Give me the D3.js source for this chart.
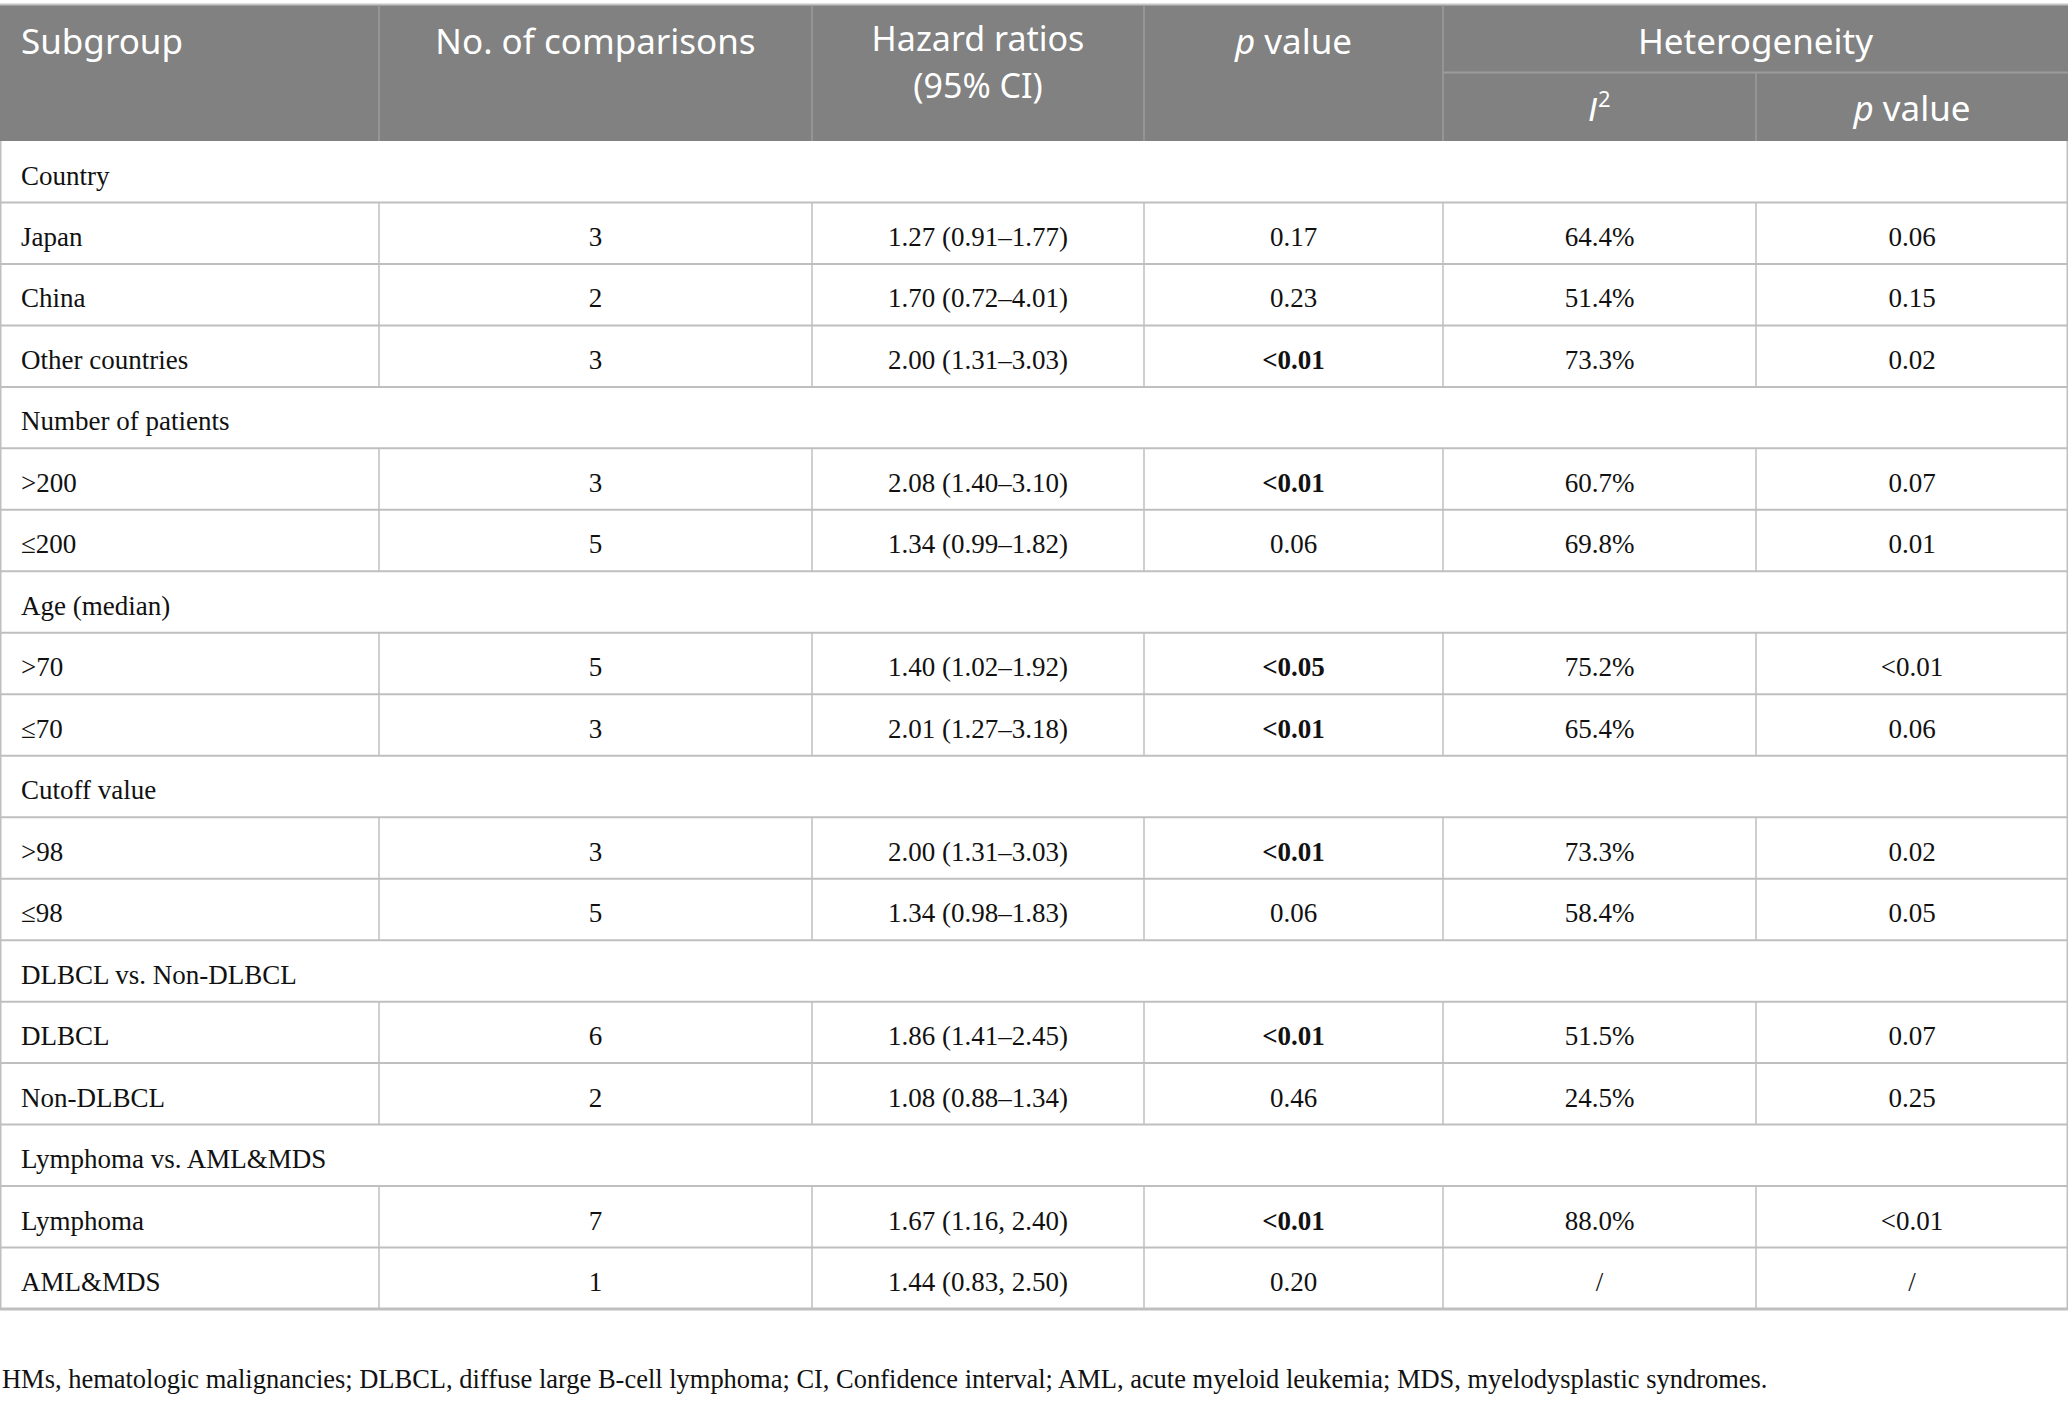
<!DOCTYPE html>
<html>
<head>
<meta charset="utf-8">
<script src="https://cdn.jsdelivr.net/npm/d3@7"></script>
<style>
  body { margin: 0; background: #fff; }
  svg { display: block; }
</style>
</head>
<body>
<div id="table_div"></div>
<script>
groups = ['Country', 'Number of patients', 'Age (median)', 'Cutoff value',
          'DLBCL vs. Non-DLBCL', 'Lymphoma vs. AML&MDS'];
subgroups = ['Japan', 'China', 'Other countries', '>200', '\u2264200', '>70', '\u226470',
             '>98', '\u226498', 'DLBCL', 'Non-DLBCL', 'Lymphoma', 'AML&MDS'];
subgroup_group = [0, 0, 0, 1, 1, 2, 2, 3, 3, 4, 4, 5, 5];
comparisons = [3, 2, 3, 3, 5, 5, 3, 3, 5, 6, 2, 7, 1];
hazard_ratios = ['1.27 (0.91\u20131.77)', '1.70 (0.72\u20134.01)', '2.00 (1.31\u20133.03)',
                 '2.08 (1.40\u20133.10)', '1.34 (0.99\u20131.82)', '1.40 (1.02\u20131.92)',
                 '2.01 (1.27\u20133.18)', '2.00 (1.31\u20133.03)', '1.34 (0.98\u20131.83)',
                 '1.86 (1.41\u20132.45)', '1.08 (0.88\u20131.34)', '1.67 (1.16, 2.40)',
                 '1.44 (0.83, 2.50)'];
p_values = ['0.17', '0.23', '<0.01', '<0.01', '0.06', '<0.05', '<0.01', '<0.01', '0.06',
            '<0.01', '0.46', '<0.01', '0.20'];
i2_values = ['64.4%', '51.4%', '73.3%', '60.7%', '69.8%', '75.2%', '65.4%', '73.3%', '58.4%',
             '51.5%', '24.5%', '88.0%', '/'];
het_p_values = ['0.06', '0.15', '0.02', '0.07', '0.01', '<0.01', '0.06', '0.02', '0.05',
                '0.07', '0.25', '<0.01', '/'];
footnote = 'HMs, hematologic malignancies; DLBCL, diffuse large B-cell lymphoma; CI, Confidence interval; AML, acute myeloid leukemia; MDS, myelodysplastic syndromes.';

table_w = 2068;
table_h = 1411;
col_x = [0, 379, 812, 1144, 1443, 1756, 2068];
head_top = 5;
head_bot = 141;
head_split = 72.5;
body_bot = 1309;
head_color = '#808180';
line_color = '#bfbfbf';
head_line_color = '#9c9c9c';
serif = '"Liberation Serif", "Times New Roman", serif';
sans = '"Noto Sans", "Open Sans", sans-serif';

// build the row list: group title rows followed by their subgroup rows
rows = [];
groups.forEach(function (g, gi) {
  rows.push({type: 'group', label: g});
  subgroups.forEach(function (s, i) {
    if (subgroup_group[i] == gi) {
      rows.push({type: 'data', cells: [s, comparisons[i], hazard_ratios[i], p_values[i],
                                       i2_values[i], het_p_values[i]],
                 bold_p: p_values[i].charAt(0) == '<'});
    }
  });
});

y = d3.scaleBand().domain(d3.range(rows.length)).range([head_bot, body_bot]);

svg = d3.select('#table_div')
  .append('svg')
  .attr('width', table_w)
  .attr('height', table_h);

// header block
svg.append('rect')
  .attr('x', 0)
  .attr('y', head_top)
  .attr('width', table_w)
  .attr('height', head_bot - head_top)
  .attr('fill', head_color);

svg.append('line')
  .attr('x1', 0).attr('x2', table_w)
  .attr('y1', head_top - 0.5).attr('y2', head_top - 0.5)
  .attr('stroke', '#c4c4c4').attr('stroke-width', 2);

[1, 2, 3, 4].forEach(function (c) {
  svg.append('line')
    .attr('x1', col_x[c]).attr('x2', col_x[c])
    .attr('y1', head_top).attr('y2', head_bot)
    .attr('stroke', head_line_color).attr('stroke-width', 1.5);
});
svg.append('line')
  .attr('x1', col_x[5]).attr('x2', col_x[5])
  .attr('y1', head_split).attr('y2', head_bot)
  .attr('stroke', head_line_color).attr('stroke-width', 1.5);
svg.append('line')
  .attr('x1', col_x[4]).attr('x2', table_w)
  .attr('y1', head_split).attr('y2', head_split)
  .attr('stroke', head_line_color).attr('stroke-width', 2);

function head_text(x, yy, anchor) {
  return svg.append('text')
    .attr('x', x)
    .attr('y', yy)
    .attr('text-anchor', anchor)
    .attr('font-family', sans)
    .attr('font-size', 35)
    .attr('fill', '#fff');
}
function mid(c1, c2) { return (col_x[c1] + col_x[c2]) / 2; }

head_text(21, 54, 'start').text('Subgroup');
head_text(mid(1, 2), 54, 'middle').text('No. of comparisons');
head_text(mid(2, 3), 51, 'middle').attr('font-size', 34).text('Hazard ratios');
head_text(mid(2, 3), 98, 'middle').attr('font-size', 34).text('(95% CI)');
t = head_text(mid(3, 4), 54, 'middle');
t.append('tspan').attr('font-style', 'italic').text('p');
t.append('tspan').text(' value');
head_text(mid(4, 6), 54, 'middle').text('Heterogeneity');
t = head_text(mid(4, 5), 121, 'middle');
t.append('tspan').attr('font-family', '"DejaVu Sans", sans-serif')
  .attr('font-style', 'italic').attr('font-size', 32).text('I');
t.append('tspan').attr('font-size', 22).attr('dy', -14).text('2');
t = head_text(mid(5, 6), 121, 'middle');
t.append('tspan').attr('font-style', 'italic').text('p');
t.append('tspan').text(' value');

// body rows
row_g = svg.selectAll('g.row')
  .data(rows)
  .enter()
  .append('g')
  .attr('class', 'row')
  .attr('transform', function (d, i) { return 'translate(0,' + y(i) + ')'; });

row_g.each(function (d) {
  var g = d3.select(this);
  var h = y.bandwidth();
  if (d.type == 'group') {
    g.append('text')
      .attr('x', 21).attr('y', 43.5)
      .attr('font-family', serif).attr('font-size', 27).attr('fill', '#111')
      .text(d.label);
    return;
  }
  for (var c = 1; c <= 5; c++) {
    g.append('line')
      .attr('x1', col_x[c]).attr('x2', col_x[c])
      .attr('y1', 0).attr('y2', h)
      .attr('stroke', line_color).attr('stroke-width', 1.5);
  }
  d.cells.forEach(function (v, c) {
    g.append('text')
      .attr('x', c == 0 ? 21 : mid(c, c + 1))
      .attr('y', 43.5)
      .attr('text-anchor', c == 0 ? 'start' : 'middle')
      .attr('font-family', serif).attr('font-size', 27).attr('fill', '#111')
      .attr('font-weight', (c == 3 && d.bold_p) ? 'bold' : 'normal')
      .text(v);
  });
});

// horizontal rules under every row
svg.selectAll('line.rule')
  .data(d3.range(rows.length))
  .enter()
  .append('line')
  .attr('class', 'rule')
  .attr('x1', 0).attr('x2', table_w)
  .attr('y1', function (i) { return y(i) + y.bandwidth(); })
  .attr('y2', function (i) { return y(i) + y.bandwidth(); })
  .attr('stroke', line_color)
  .attr('stroke-width', function (i) { return i == rows.length - 1 ? 3 : 2; });

// outer left / right borders
[0.75, table_w - 0.75].forEach(function (x) {
  svg.append('line')
    .attr('x1', x).attr('x2', x)
    .attr('y1', head_bot).attr('y2', body_bot)
    .attr('stroke', line_color).attr('stroke-width', 1.5);
});

// footnote, sized to span the same width as the original
fn = svg.append('text')
  .attr('x', 2).attr('y', 1388)
  .attr('font-family', serif).attr('font-size', 27).attr('fill', '#111')
  .text(footnote);
fn_w = fn.node().getComputedTextLength();
fn.attr('font-size', 27 * 1766 / fn_w);
</script>
</body>
</html>
